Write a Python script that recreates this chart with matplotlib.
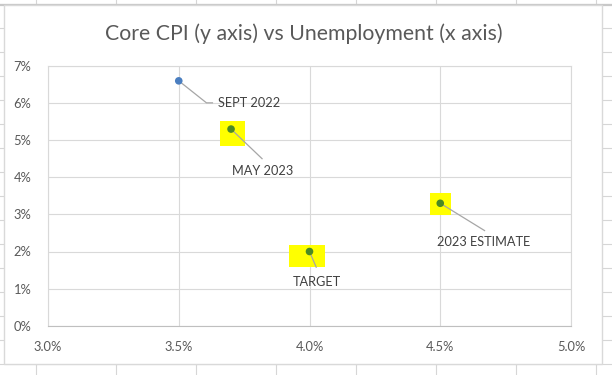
import matplotlib
matplotlib.use("Agg")
import matplotlib.pyplot as plt
from matplotlib.lines import Line2D
from matplotlib.patches import Rectangle
from matplotlib.text import Text
from matplotlib.transforms import IdentityTransform
from matplotlib.ticker import FuncFormatter

# ---- data ----
labels = ["SEPT 2022", "MAY 2023", "TARGET", "2023 ESTIMATE"]
unemployment = [3.5, 3.7, 4.0, 4.5]   # x, percent
core_cpi = [6.6, 5.3, 2.0, 3.3]       # y, percent
x_ticks = [3.0, 3.5, 4.0, 4.5, 5.0]
y_ticks = [0, 1, 2, 3, 4, 5, 6, 7]
title = "Core CPI (y axis) vs Unemployment (x axis)"

# ---- styles ----
point_colors = ["#4a7ec0", "#4b8a24", "#4b8a24", "#4b8a24"]
# yellow highlight boxes in pixels relative to point (left, right, up, down); None = no highlight
highlights = [None, (-11, 14, 8, 17), (-21, 15, 7, 15), (-10, 11, 10, 12)]
# label text centre offset (dx, dy down) in pixels and leader-line end
label_offsets = [(70.7, 22.6), (31.4, 41.6), (7.2, 30.3), (43.7, 39)]
leader_ends = [[(27.7, 22), (33.7, 22)], [(31, 29.6)], [(6.7, 15.7)], [(44.3, 27.3)]]

W, H = 612, 375
plt.rcParams["font.family"] = ["Lato", "DejaVu Sans"]
fig = plt.figure(figsize=(W / 100, H / 100), dpi=100)
fig.patch.set_facecolor("white")

# spreadsheet grid behind the chart
for gx in range(36, W + 1, 80):
    fig.add_artist(Line2D([gx / W, gx / W], [0, 1], transform=fig.transFigure,
                          color="#d6d6d6", lw=0.8, zorder=-10))
for gy in range(4, H + 1, 24):
    fig.add_artist(Line2D([0, 1], [1 - gy / H, 1 - gy / H], transform=fig.transFigure,
                          color="#d6d6d6", lw=0.8, zorder=-10))
fig.add_artist(Line2D([0, 1], [1 - 4.5 / H] * 2, transform=fig.transFigure,
                      color="#c8c8c8", lw=1.6, zorder=-9))
# chart area
fig.add_artist(Rectangle((4 / W, 1 - 364 / H), 598 / W, 359 / H, transform=fig.transFigure,
                         fc="white", ec="#d9d9d9", lw=1, zorder=-5))

L, R, T, B = 48, 571, 66, 325.7
ax = fig.add_axes([L / W, 1 - B / H, (R - L) / W, (B - T) / H])
ax.set_facecolor("none")
ax.set_xlim(x_ticks[0], x_ticks[-1])
ax.set_ylim(y_ticks[0], y_ticks[-1])
ax.set_xticks(x_ticks)
ax.set_yticks(y_ticks)
ax.xaxis.set_major_formatter(FuncFormatter(lambda v, p: f"{v:.1f}%"))
ax.yaxis.set_major_formatter(FuncFormatter(lambda v, p: f"{v:.0f}%"))
ax.tick_params(length=0, labelsize=9.3, labelcolor="#595959")
ax.tick_params(axis="x", pad=11)
ax.tick_params(axis="y", pad=12)
ax.grid(True, color="#d9d9d9", lw=0.8)
ax.set_axisbelow(True)
for s in ax.spines.values():
    s.set_color("#d9d9d9")
    s.set_linewidth(0.8)
ax.spines["bottom"].set_color("#bfbfbf")

fig.text(304 / W, 1 - 34 / H, title, ha="center", va="center",
         fontsize=15.3, color="#595959")

ax.set_autoscale_on(False)
for i, (xv, yv) in enumerate(zip(unemployment, core_cpi)):
    px, py = ax.transData.transform((xv, yv))
    hl = highlights[i]
    if hl is not None:
        l, r, u, d = hl
        ax.add_artist(Rectangle((px + l, py - d), r - l, u + d, transform=IdentityTransform(),
                                fc="#ffff00", ec="none", zorder=2))
    pts = [(px, py)] + [(px + dx, py - dy) for dx, dy in leader_ends[i]]
    ax.add_artist(Line2D([p[0] for p in pts], [p[1] for p in pts], transform=IdentityTransform(),
                         color="#a6a6a6", lw=0.9, zorder=3))
    dx, dy = label_offsets[i]
    ax.add_artist(Text(px + dx, py - dy, labels[i], transform=IdentityTransform(),
                       ha="center", va="center", fontsize=9.2, color="#404040", zorder=5))

ax.scatter(unemployment, core_cpi, s=30, c=point_colors, zorder=4, linewidths=0)

fig.savefig("out.png", dpi=100)
